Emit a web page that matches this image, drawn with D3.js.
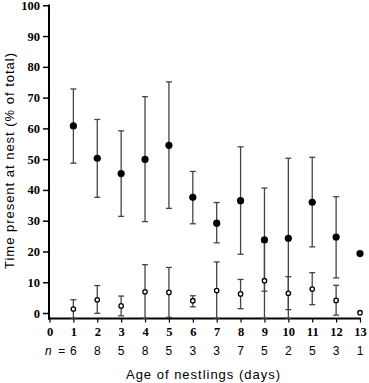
<!doctype html>
<html>

<head>
    <meta charset="utf-8">
    <title>Nestling attendance</title>
    <script type="text/javascript" src="https://cdn.jsdelivr.net/npm/d3@7"></script>
    <style type="text/css">
        html,
        body {
            margin: 0;
            padding: 0;
            background: #fff;
        }

        #chart svg {
            display: block;
        }
    </style>

    <script type="text/javascript">
        // age of nestlings (days) and sample sizes
        var days = [1, 2, 3, 4, 5, 6, 7, 8, 9, 10, 11, 12, 13]
        var sampleN = [6, 8, 5, 8, 5, 3, 3, 7, 5, 2, 5, 3, 1]

        // filled circles: mean, upper and lower bar ends
        var filledMean = [60.8, 50.3, 45.3, 49.9, 54.5, 37.6, 29.2, 36.5, 23.8, 24.3, 36.0, 24.7, 19.3]
        var filledHigh = [72.8, 62.9, 59.2, 70.3, 75.1, 46.0, 35.9, 54.0, 40.6, 50.3, 50.6, 37.8, null]
        var filledLow = [48.7, 37.6, 31.4, 29.7, 34.0, 29.0, 22.8, 19.1, 7.1, -1.7, 21.5, 11.4, null]

        // open circles
        var openMean = [1.3, 4.3, 2.3, 6.9, 6.7, 4.0, 7.3, 6.2, 10.5, 6.4, 7.8, 4.1, 0.1]
        var openHigh = [4.3, 8.9, 5.5, 15.7, 14.8, 5.6, 16.6, 10.9, 23.0, 11.8, 13.1, 9.0, null]
        var openLow = [-1.7, -0.1, -0.9, -1.7, -1.4, 2.0, -1.7, 1.4, -1.7, 1.1, 2.7, -0.7, null]

        var yTicks = [0, 10, 20, 30, 40, 50, 60, 70, 80, 90, 100]
        var xTicks = [0, 1, 2, 3, 4, 5, 6, 7, 8, 9, 10, 11, 12, 13]

        var yTitle = "Time present at nest (% of total)"
        var xTitle = "Age of nestlings (days)"
    </script>

    <script type="text/javascript">
        document.addEventListener("DOMContentLoaded", function (e) {

            var width = 369, height = 383

            var svg = d3.select("#chart").append("svg")
                .attr("width", width)
                .attr("height", height)

            var x = d3.scaleLinear().domain([0, 13]).range([49.5, 360])
            var y = d3.scaleLinear().domain([0, 100]).range([313, 5.3])
            var xAxisY = 318.5

            var serif = "'Liberation Serif', 'Times New Roman', serif"
            var sans = "'Liberation Sans', Arial, sans-serif"

            // y axis
            var yAxis = svg.append("g")
                .attr("transform", "translate(49,0)")
                .call(d3.axisLeft(y).tickValues(yTicks).tickSize(6).tickPadding(3))
                .attr("font-family", serif)
                .attr("font-size", 12.5)
                .attr("font-weight", "bold")
            yAxis.select(".domain").remove()
            yAxis.selectAll(".tick line").attr("stroke", "#000").attr("stroke-width", 1.5)
            yAxis.selectAll(".tick text").attr("fill", "#000")

            svg.append("line")
                .attr("x1", 49).attr("x2", 49)
                .attr("y1", 4.5).attr("y2", xAxisY + 1)
                .attr("stroke", "#000").attr("stroke-width", 2)

            // x axis
            var xAxis = svg.append("g")
                .attr("transform", "translate(0," + xAxisY + ")")
                .call(d3.axisBottom(x).tickValues(xTicks).tickSize(4).tickPadding(5))
                .attr("font-family", serif)
                .attr("font-size", 12.5)
                .attr("font-weight", "bold")
            xAxis.select(".domain").remove()
            xAxis.selectAll(".tick line").attr("stroke", "#000").attr("stroke-width", 1.2)
            xAxis.selectAll(".tick text").attr("fill", "#000")

            svg.append("line")
                .attr("x1", 48).attr("x2", 361)
                .attr("y1", xAxisY).attr("y2", xAxisY)
                .attr("stroke", "#000").attr("stroke-width", 2)

            // sample sizes
            svg.append("g").selectAll("text")
                .data(sampleN)
                .enter().append("text")
                .attr("x", function (d, i) { return x(days[i]) })
                .attr("y", 355)
                .attr("text-anchor", "middle")
                .style("font-family", sans)
                .style("font-size", "12px")
                .text(function (d) { return d })

            var nLabel = svg.append("text")
                .attr("x", x(days[0]) - 8)
                .attr("y", 355)
                .attr("text-anchor", "end")
                .style("font-family", sans)
                .style("font-size", "12px")
            nLabel.append("tspan").style("font-style", "italic").text("n")
            nLabel.append("tspan").text(" \u00a0=")

            // titles
            svg.append("text")
                .attr("x", 203)
                .attr("y", 379)
                .attr("text-anchor", "middle")
                .attr("textLength", 154)
                .attr("lengthAdjust", "spacing")
                .style("font-family", sans)
                .style("font-size", "13px")
                .text(xTitle)

            svg.append("text")
                .attr("transform", "translate(13.5,161) rotate(-90)")
                .attr("text-anchor", "middle")
                .attr("textLength", 216)
                .attr("lengthAdjust", "spacing")
                .style("font-family", sans)
                .style("font-size", "13px")
                .text(yTitle)

            // error bars
            function drawBars(high, low) {
                var rows = days.map(function (d, i) { return { day: d, hi: high[i], lo: low[i] } })
                    .filter(function (r) { return r.hi !== null })
                var g = svg.append("g").attr("stroke", "#444").attr("stroke-width", 1.3)
                g.selectAll(".stem").data(rows).enter().append("line")
                    .attr("x1", function (r) { return x(r.day) })
                    .attr("x2", function (r) { return x(r.day) })
                    .attr("y1", function (r) { return y(r.hi) })
                    .attr("y2", function (r) { return y(r.lo) })
                g.selectAll(".capHi").data(rows).enter().append("line")
                    .attr("x1", function (r) { return x(r.day) - 3 })
                    .attr("x2", function (r) { return x(r.day) + 3 })
                    .attr("y1", function (r) { return y(r.hi) })
                    .attr("y2", function (r) { return y(r.hi) })
                g.selectAll(".capLo").data(rows).enter().append("line")
                    .attr("x1", function (r) { return x(r.day) - 3 })
                    .attr("x2", function (r) { return x(r.day) + 3 })
                    .attr("y1", function (r) { return y(r.lo) })
                    .attr("y2", function (r) { return y(r.lo) })
            }

            drawBars(filledHigh, filledLow)
            drawBars(openHigh, openLow)

            // points
            svg.append("g").selectAll("circle")
                .data(filledMean)
                .enter().append("circle")
                .attr("cx", function (d, i) { return x(days[i]) })
                .attr("cy", function (d) { return y(d) })
                .attr("r", 3.6)
                .attr("fill", "#000")

            svg.append("g").selectAll("circle")
                .data(openMean)
                .enter().append("circle")
                .attr("cx", function (d, i) { return x(days[i]) })
                .attr("cy", function (d) { return y(d) })
                .attr("r", 2.2)
                .attr("fill", "#fff")
                .attr("stroke", "#000")
                .attr("stroke-width", 1.3)
        })
    </script>

</head>

<body>
    <div id="chart"></div>
</body>

</html>
